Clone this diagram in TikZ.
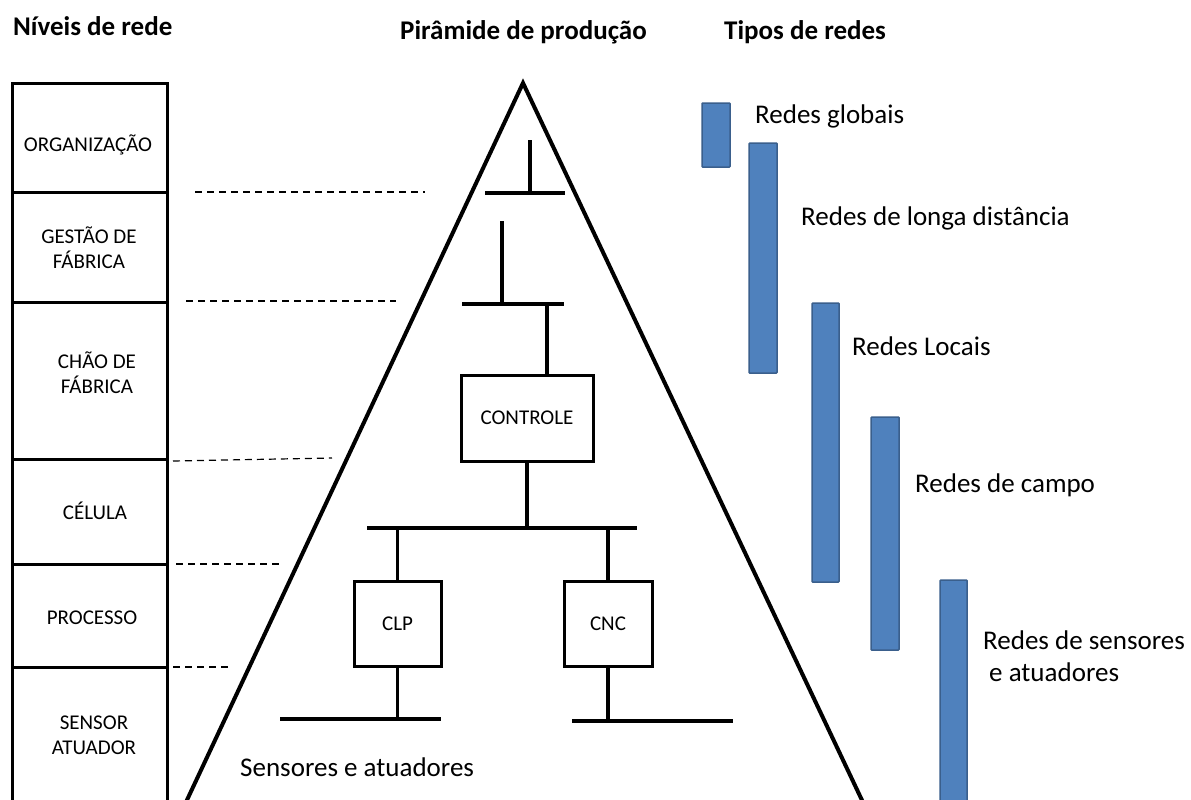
\documentclass[tikz,border=0pt]{standalone}
\usepackage{fontspec}
\setmainfont{Carlito}
\usetikzlibrary{calc}
\definecolor{barfill}{HTML}{4F81BD}
\definecolor{barline}{HTML}{3A5F8C}
\begin{document}
\begin{tikzpicture}[x=1pt,y=-1pt,
  title/.style={font=\fontsize{27}{32}\selectfont\bfseries, anchor=base west, inner sep=0},
  lvltext/.style={font=\fontsize{21}{25}\selectfont, align=center, inner sep=0},
  lvlline/.style={line width=3pt},
  guide/.style={line width=1.2pt, dash pattern=on 7pt off 5pt},
  pyr/.style={line width=4pt, line join=miter},
  bus/.style={line width=3.5pt},
  unit/.style={draw, line width=3pt, inner sep=0, font=\fontsize{21}{25}\selectfont},
  netbar/.style={draw=barline, fill=barfill, line width=1.5pt, rounded corners=0.8pt},
  nettext/.style={font=\fontsize{27}{32}\selectfont, anchor=base west, inner sep=0},
]
\clip (0,0) rectangle (1191,800);
\fill[white] (0,0) rectangle (1191,800);

% column headings
\node[title] (hlev) at (13,36) {Níveis de rede};
\node[title] (hpyr) at (400,40) {Pirâmide de produção};
\node[title] (htyp) at (724,40) {Tipos de redes};

% network levels column
\draw[lvlline] (12.5,83) rectangle (167,830);
\foreach \y in {192,302,459,564,667}
  \draw[lvlline] (12.5,\y) -- (167,\y);
\node[lvltext] (lorg)  at (88,145)   {ORGANIZAÇÃO};
\node[lvltext] (lfab)  at (89,247.5) {GESTÃO DE\\FÁBRICA};
\node[lvltext] (lchao) at (97,372.5) {CHÃO DE\\FÁBRICA};
\node[lvltext] (lcel)  at (95,511)   {CÉLULA};
\node[lvltext] (lproc) at (92,618)   {PROCESSO};
\node[lvltext] (lsen)  at (94,735.5) {SENSOR\\ATUADOR};

% dashed level guides
\draw[guide] (195,192) -- (425,192);
\draw[guide] (186,301) -- (396,301);
\draw[guide] (173,461) -- (332,458);
\draw[guide] (176,564) -- (281,564);
\draw[guide] (173,667) -- (230,667);

% production pyramid
\draw[pyr] (172,832) -- (523,83) -- (877,832);

% upper network segments
\coordinate (t1a) at (530,140);
\coordinate (b1l) at (485,193);
\coordinate (b1r) at (565,193);
\draw[bus] (b1l) -- (b1r);
\draw[bus] (t1a) -- (t1a |- b1l);

\coordinate (t2a) at (502,221);
\coordinate (b2l) at (462,304);
\coordinate (b2r) at (564,304);
\coordinate (b2c) at (547,304);
\draw[bus] (b2l) -- (b2r);
\draw[bus] (t2a) -- (t2a |- b2l);

% control unit
\node[unit, minimum width=132, minimum height=86] (ctrl) at (527,418) {CONTROLE};
\draw[bus] (b2c) -- (b2c |- ctrl.north);

% cell bus
\coordinate (b3l) at (367,528);
\coordinate (b3r) at (637,528);
\draw[bus] (b3l) -- (b3r);
\draw[bus] (ctrl.south) -- (ctrl.south |- b3l);

% field devices
\node[unit, minimum width=87, minimum height=85] (clp) at (397.5,623.5) {CLP};
\node[unit, minimum width=88, minimum height=85] (cnc) at (608,623.5) {CNC};
\draw[bus] (clp.north) -- (clp.north |- b3l);
\draw[bus] (cnc.north) -- (cnc.north |- b3l);

% sensor/actuator buses
\coordinate (b4l) at (280,719);
\coordinate (b4r) at (441,719);
\coordinate (b5l) at (572,721);
\coordinate (b5r) at (733,721);
\draw[bus] (b4l) -- (b4r);
\draw[bus] (b5l) -- (b5r);
\draw[bus] (clp.south) -- (clp.south |- b4l);
\draw[bus] (cnc.south) -- (cnc.south |- b5l);

\node[nettext] (sens) at (240,776) {Sensores e atuadores};

% network type bars
\draw[netbar] (702,103) rectangle (730,167);
\draw[netbar] (749,143) rectangle (777,373);
\draw[netbar] (812,303) rectangle (839,582);
\draw[netbar] (871,417) rectangle (899,650);
\draw[netbar] (940,580) rectangle (967,830);

\node[nettext] (ng)  at (755,123) {Redes globais};
\node[nettext] (nw)  at (801,225) {Redes de longa distância};
\node[nettext] (nl)  at (852,355) {Redes Locais};
\node[nettext] (nf)  at (915,492) {Redes de campo};
\node[nettext] (ns)  at (983,649) {Redes de sensores};
\node[nettext] (ns2) at (989,681) {e atuadores};
\end{tikzpicture}
\end{document}
